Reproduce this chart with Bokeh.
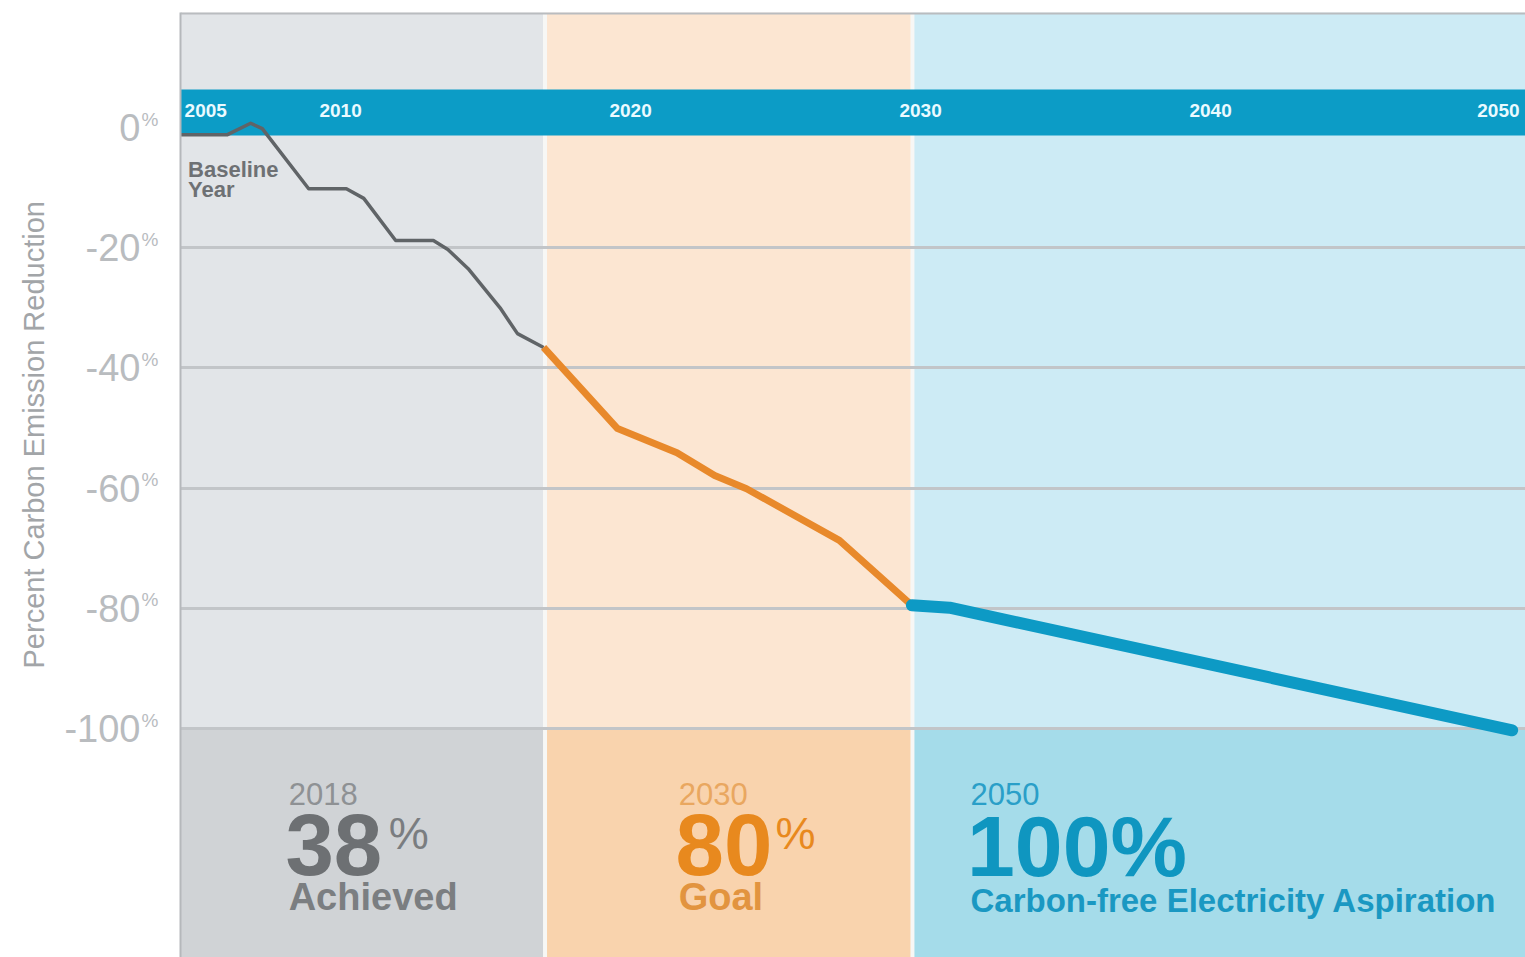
from bokeh.plotting import figure
from bokeh.models import FixedTicker, LinearAxis, Span, CustomJSTickFormatter, Title
from bokeh.core.properties import value
from bokeh.embed import file_html
from bokeh.resources import INLINE

# ---------------- data ----------------
hist_years = [2004.5, 2006.1, 2006.9, 2007.3, 2008.9, 2010.2, 2010.8, 2011.9, 2013.2, 2013.7, 2014.4, 2015.5, 2016.1, 2017.0]
hist_pct = [-1.2, -1.2, 0.7, -0.2, -10.2, -10.2, -11.8, -18.8, -18.8, -20.3, -23.5, -30.0, -34.3, -36.6]

goal_years = [2017.0, 2019.55, 2021.6, 2022.9, 2024.0, 2027.2, 2029.7]
goal_pct = [-36.6, -50.1, -54.1, -57.9, -60.1, -68.7, -79.5]

asp_years = [2029.7, 2031.0, 2050.4]
asp_pct = [-79.5, -79.9, -100.3]

region_bounds = [2004.48, 2017.05, 2029.72, 2050.86]
region_light = ["#e2e5e8", "#fce6d2", "#cdebf5"]
region_dark = ["#d0d3d6", "#f9d3ad", "#a5dcea"]

band_years_mid = [2010, 2020, 2030, 2040]
band_first = 2005
band_last = 2050

y_ticks = [0, -20, -40, -60, -80, -100]
y_tick_labels = ["0", "-20", "-40", "-60", "-80", "-100"]
grid_ticks = [-20, -40, -60, -80, -100]

Y_TOP = 19.13
Y_BOT = -138.1
BAND_BOTTOM = -1.33
BAND_TOP = 6.3
PCT_RAISE = 1.4

SANS = "Liberation Sans"

p = figure(width=1525, height=957,
           x_range=(region_bounds[0], region_bounds[-1]),
           y_range=(Y_BOT, Y_TOP),
           output_backend="svg", toolbar_location=None,
           x_axis_location=None, y_axis_location=None,
           min_border_left=180, min_border_right=0,
           min_border_top=12, min_border_bottom=0)
p.outline_line_color = None
p.background_fill_color = "white"

# inner left axis: the small raised "%" signs + the left border line
pct_axis = LinearAxis(ticker=FixedTicker(ticks=[t + PCT_RAISE for t in y_ticks]),
                      formatter=CustomJSTickFormatter(code="return '%';"))
pct_axis.major_label_text_font = SANS
pct_axis.major_label_text_font_size = "19px"
pct_axis.major_label_text_color = "#b9bcbf"
pct_axis.major_label_standoff = 16
pct_axis.major_tick_line_color = None
pct_axis.minor_tick_line_color = None
pct_axis.axis_line_color = "#b5b8bb"
pct_axis.axis_line_width = 2
p.add_layout(pct_axis, "left")

# outer left axis: numbers
num_axis = LinearAxis(ticker=FixedTicker(ticks=y_ticks))
num_axis.major_label_overrides = {t: l for t, l in zip(y_ticks, y_tick_labels)}
num_axis.major_label_text_font = SANS
num_axis.major_label_text_font_size = "38px"
num_axis.major_label_text_color = "#b9bcbf"
num_axis.major_label_standoff = -8
num_axis.major_tick_line_color = None
num_axis.minor_tick_line_color = None
num_axis.axis_line_color = None
p.add_layout(num_axis, "left")

# vertical axis title, placed beside the 0..-100 scale rather than the whole frame
y_title = Title(text="Percent Carbon Emission Reduction", align="left", offset=289,
                text_font=SANS, text_font_size="29px", text_font_style="normal",
                text_color="#a2a5a8", standoff=24)
p.add_layout(y_title, "left")

p.xgrid.visible = False
p.ygrid.ticker = FixedTicker(ticks=grid_ticks)
p.ygrid.grid_line_color = "#c2c5c8"
p.ygrid.grid_line_width = 3

# background regions
p.quad(left=region_bounds[:-1], right=region_bounds[1:], bottom=-100, top=Y_TOP,
       fill_color=region_light, line_color=None, level="image")
p.quad(left=region_bounds[:-1], right=region_bounds[1:], bottom=Y_BOT, top=-100,
       fill_color=region_dark, line_color=None, level="image")
p.segment(x0=region_bounds[1:3], x1=region_bounds[1:3], y0=Y_BOT, y1=Y_TOP,
          line_color="#f7f7f5", line_width=4, level="image")

# top border
p.add_layout(Span(location=Y_TOP, dimension="width", line_color="#b9bcbf", line_width=4))

# blue year band
p.quad(left=region_bounds[0], right=region_bounds[-1], bottom=BAND_BOTTOM, top=BAND_TOP,
       fill_color="#0c9cc6", line_color=None)
band_y = (BAND_TOP + BAND_BOTTOM) / 2 + 0.3
band_style = dict(text_font=value(SANS), text_font_style="bold", text_font_size="19px",
                  text_color="#eafaff", text_baseline="middle")
p.text(x=band_years_mid, y=[band_y] * len(band_years_mid),
       text=[str(v) for v in band_years_mid], text_align="center", **band_style)
p.text(x=[band_first], y=[band_y], text=[str(band_first)], text_align="left",
       x_offset=-11, **band_style)
p.text(x=[band_last], y=[band_y], text=[str(band_last)], text_align="right",
       x_offset=19, **band_style)

# lines
p.line(hist_years, hist_pct, line_color="#606467", line_width=3.5, line_join="round")
p.line(goal_years, goal_pct, line_color="#e8892b", line_width=7, line_join="round")
p.line(asp_years, asp_pct, line_color="#0d9ac5", line_width=12, line_join="round",
       line_cap="round")

p.text(x=[2004.74], y=[-4.9], text=["Baseline\nYear"], text_font=value(SANS),
       text_font_style="bold", text_font_size="22px", text_color="#6e7174",
       text_baseline="top", text_line_height=0.8)

# bottom panel texts
def txt(x, y, s, size, color, style="bold"):
    p.text(x=[x], y=[y], text=[s], text_font=value(SANS), text_font_style=style,
           text_font_size=size, text_color=color, text_baseline="top",
           text_align="left")

txt(2008.21, -109.0, "2018", "31px", "#8e9194", "normal")
txt(2008.1, -114.2, "38", "87px", "#6d7073")
txt(2011.66, -113.2, "%", "45px", "#7a7d80", "normal")
txt(2008.21, -124.5, "Achieved", "38px", "#7b7e81")

txt(2021.66, -109.0, "2030", "31px", "#e9a760", "normal")
txt(2021.55, -114.2, "80", "87px", "#e8891e")
txt(2025.0, -113.2, "%", "45px", "#e8891e", "normal")
txt(2021.66, -124.5, "Goal", "38px", "#e2943f")

txt(2031.72, -109.1, "2050", "31px", "#2a9fc8", "normal")
txt(2031.6, -111.5, "100%", "86px", "#0f96c0")
txt(2031.72, -125.5, "Carbon-free Electricity Aspiration", "33px", "#1a98c2")

open("out.html", "w").write(file_html(p, INLINE))
